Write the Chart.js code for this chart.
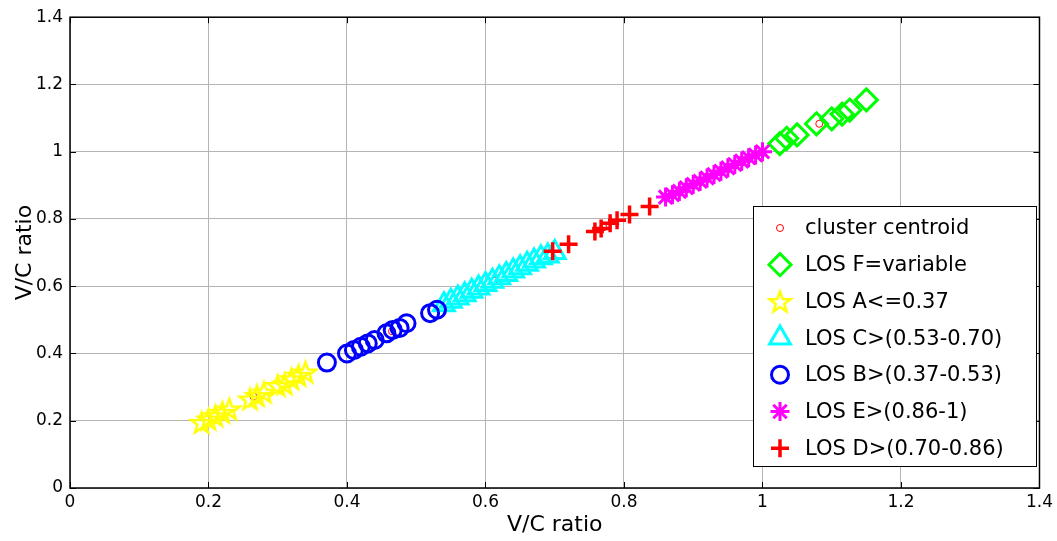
<!DOCTYPE html>
<html>
<head>
<meta charset="utf-8">
<script src="https://cdn.jsdelivr.net/npm/chart.js@4.4.1/dist/chart.umd.min.js"></script>
<style>html,body{margin:0;padding:0;background:#fff}</style>
</head>
<body>
<canvas id="vcChart" width="1057" height="541"></canvas>
<script>
// series names, in legend order
const seriesLabels = ['cluster centroid', 'LOS F=variable', 'LOS A<=0.37', 'LOS C>(0.53-0.70)',
    'LOS B>(0.37-0.53)', 'LOS E>(0.86-1)', 'LOS D>(0.70-0.86)'];

const centroidX = [0.265, 0.465, 0.612, 0.77, 0.93, 1.082];
const centroidY = [0.272, 0.466, 0.617, 0.775, 0.932, 1.083];

const losFx = [1.025, 1.035, 1.05, 1.078, 1.10, 1.115, 1.126, 1.15];
const losFy = [1.024, 1.04, 1.05, 1.083, 1.098, 1.112, 1.124, 1.154];

const losAx = [0.19, 0.20, 0.21, 0.22, 0.23, 0.26, 0.27, 0.28, 0.30, 0.31, 0.32, 0.33, 0.34];
const losAy = [0.195, 0.205, 0.215, 0.225, 0.235, 0.265, 0.275, 0.285, 0.305, 0.31, 0.325, 0.335, 0.345];

const losCx = [0.54, 0.55, 0.56, 0.57, 0.58, 0.59, 0.60, 0.61, 0.62, 0.63, 0.64, 0.65, 0.66, 0.67, 0.68, 0.69, 0.70];
const losCy = [0.545, 0.555, 0.565, 0.575, 0.585, 0.595, 0.605, 0.615, 0.625, 0.635, 0.645, 0.655, 0.665, 0.675, 0.685, 0.69, 0.70];

const losBx = [0.371, 0.40, 0.41, 0.42, 0.43, 0.44, 0.457, 0.466, 0.476, 0.486, 0.52, 0.53];
const losBy = [0.373, 0.40, 0.41, 0.42, 0.43, 0.44, 0.46, 0.47, 0.476, 0.49, 0.52, 0.53];

const losEx = [0.86, 0.87, 0.88, 0.89, 0.90, 0.91, 0.92, 0.93, 0.94, 0.95, 0.96, 0.97, 0.98, 0.99, 1.0];
const losEy = [0.865, 0.872, 0.882, 0.893, 0.903, 0.912, 0.922, 0.932, 0.942, 0.952, 0.962, 0.972, 0.982, 0.99, 1.0];

const losDx = [0.697, 0.72, 0.758, 0.767, 0.78, 0.79, 0.808, 0.837];
const losDy = [0.704, 0.725, 0.763, 0.772, 0.787, 0.796, 0.813, 0.837];

const axisTicks = [0, 0.2, 0.4, 0.6, 0.8, 1, 1.2, 1.4];

const FONT = "'DejaVu Sans', Arial, sans-serif";

function toPoints(xs, ys) {
    return xs.map((x, i) => ({x: x, y: ys[i]}));
}

// matlab style pentagram, drawn once and used as a point image
function makeStar(color, size, lw) {
    const c = document.createElement('canvas');
    c.width = size;
    c.height = size;
    const g = c.getContext('2d');
    const R = size / 2 - lw;
    const r = R * 0.4;
    const cx = size / 2, cy = size / 2 + R * 0.095;
    g.beginPath();
    for (let i = 0; i < 10; i++) {
        const a = -Math.PI / 2 + i * Math.PI / 5;
        const rad = i % 2 ? r : R;
        g.lineTo(cx + rad * Math.cos(a), cy + rad * Math.sin(a));
    }
    g.closePath();
    g.strokeStyle = color;
    g.lineWidth = lw;
    g.stroke();
    return c;
}

const starImg = makeStar('#ffff00', 27, 2.5);

function series(label, xs, ys, color, style, radius, width, order) {
    return {
        label: label,
        data: toPoints(xs, ys),
        pointStyle: style,
        pointRadius: radius,
        pointHoverRadius: radius,
        borderColor: color,
        backgroundColor: 'rgba(0,0,0,0)',
        pointBorderWidth: width,
        borderWidth: width,
        order: order
    };
}

const datasets = [
    series(seriesLabels[0], centroidX, centroidY, '#ff0000', 'circle', 3.5, 1, 6),
    series(seriesLabels[1], losFx, losFy, '#00ff00', 'rectRot', 11, 3, 5),
    series(seriesLabels[2], losAx, losAy, '#ffff00', starImg, 11, 2.5, 4),
    series(seriesLabels[3], losCx, losCy, '#00ffff', 'triangle', 12, 3, 3),
    series(seriesLabels[4], losBx, losBy, '#0000ff', 'circle', 8.5, 3, 2),
    series(seriesLabels[5], losEx, losEy, '#ff00ff', 'star', 9.5, 3, 1),
    series(seriesLabels[6], losDx, losDy, '#ff0000', 'cross', 9, 3.5, 0)
];

// box, inward tick marks and the legend inside the axes
const framePlugin = {
    id: 'frame',
    afterDraw(chart) {
        const ctx = chart.ctx;
        const a = chart.chartArea;
        const xs = chart.scales.x, ys = chart.scales.y;
        ctx.save();
        ctx.strokeStyle = '#000';
        ctx.lineWidth = 1;
        ctx.beginPath();
        axisTicks.forEach(v => {
            const px = Math.round(xs.getPixelForValue(v)) + 0.5;
            ctx.moveTo(px, a.bottom); ctx.lineTo(px, a.bottom - 6);
            ctx.moveTo(px, a.top); ctx.lineTo(px, a.top + 6);
            const py = Math.round(ys.getPixelForValue(v)) + 0.5;
            ctx.moveTo(a.left, py); ctx.lineTo(a.left + 6, py);
            ctx.moveTo(a.right, py); ctx.lineTo(a.right - 6, py);
        });
        ctx.stroke();
        ctx.lineWidth = 1.5;
        ctx.strokeRect(a.left, a.top, a.right - a.left, a.bottom - a.top);

        // legend
        const box = {x: 753, y: 206, w: 283, h: 260};
        ctx.fillStyle = '#fff';
        ctx.fillRect(box.x, box.y, box.w, box.h);
        ctx.lineWidth = 1;
        ctx.strokeRect(box.x + 0.5, box.y + 0.5, box.w, box.h);
        ctx.font = '21px ' + FONT;
        ctx.textBaseline = 'middle';
        ctx.textAlign = 'left';
        chart.data.datasets.forEach((ds, i) => {
            const cy = box.y + 22 + i * 36.7;
            ctx.strokeStyle = ds.borderColor;
            ctx.fillStyle = 'rgba(0,0,0,0)';
            ctx.lineWidth = ds.pointBorderWidth;
            Chart.helpers.drawPoint(ctx, {
                pointStyle: ds.pointStyle,
                radius: ds.pointRadius,
                borderWidth: ds.pointBorderWidth,
                rotation: 0
            }, box.x + 27, cy);
            ctx.fillStyle = '#000';
            ctx.fillText(ds.label, box.x + 52, cy + 1);
        });
        ctx.restore();
    }
};

function fmt(v) {
    return String(Number(v.toFixed(1)));
}

new Chart(document.getElementById('vcChart'), {
    type: 'scatter',
    data: {datasets: datasets},
    options: {
        responsive: false,
        animation: false,
        devicePixelRatio: 1,
        layout: {padding: {top: 15, right: 17, left: 0, bottom: 0}},
        plugins: {
            legend: {display: false},
            tooltip: {enabled: false}
        },
        scales: {
            x: {
                type: 'linear',
                min: 0,
                max: 1.4,
                afterFit: s => { s.height = 53; },
                afterBuildTicks: s => { s.ticks = axisTicks.map(v => ({value: v})); },
                ticks: {
                    color: '#000',
                    padding: 4,
                    maxRotation: 0,
                    font: {family: FONT, size: 17},
                    callback: fmt
                },
                grid: {color: '#b4b4b4', lineWidth: 1, drawTicks: false},
                border: {display: false},
                title: {
                    display: true,
                    text: 'V/C ratio',
                    color: '#000',
                    font: {family: FONT, size: 22},
                    padding: {top: 0, bottom: 3}
                }
            },
            y: {
                type: 'linear',
                min: 0,
                max: 1.4,
                afterFit: s => { s.width = 70; },
                afterBuildTicks: s => { s.ticks = axisTicks.map(v => ({value: v})); },
                ticks: {
                    color: '#000',
                    padding: 7,
                    font: {family: FONT, size: 17},
                    callback: fmt
                },
                grid: {color: '#b4b4b4', lineWidth: 1, drawTicks: false},
                border: {display: false},
                title: {
                    display: true,
                    text: 'V/C ratio',
                    color: '#000',
                    font: {family: FONT, size: 22},
                    padding: {top: 12, bottom: 0}
                }
            }
        }
    },
    plugins: [framePlugin]
});
</script>
</body>
</html>
